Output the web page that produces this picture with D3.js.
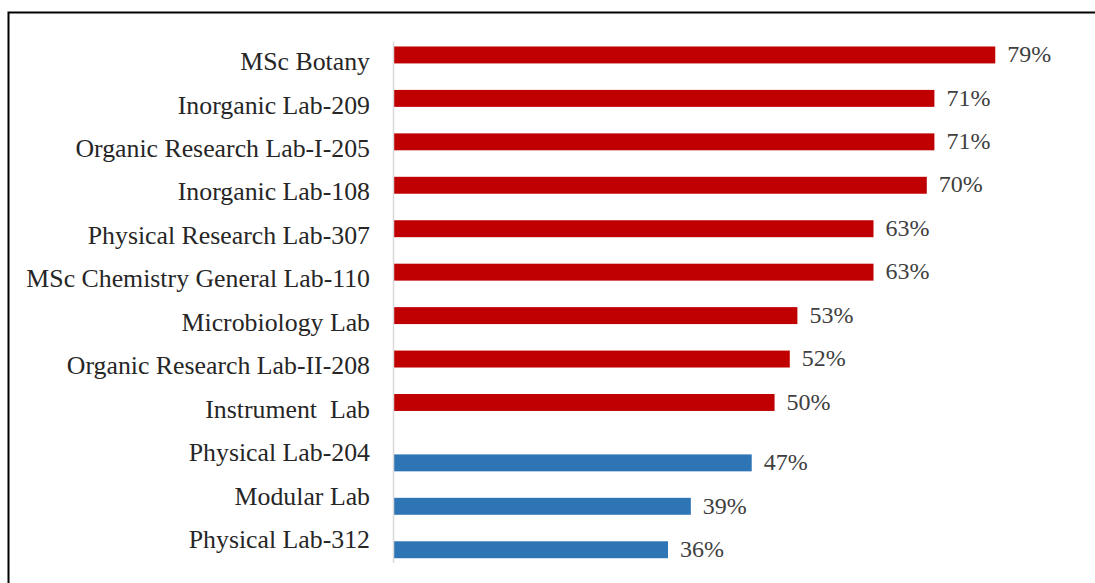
<!DOCTYPE html>
<meta charset="utf-8">
<style>
    body { margin: 0; background: #fff; }
    svg { display: block; }
    .cat text { font-family: 'Liberation Serif', 'Times New Roman', serif; font-size: 25.8px; fill: #262626; white-space: pre; }
    .val { font-family: 'Liberation Serif', 'Times New Roman', serif; font-size: 24px; fill: #404040; }
</style>
<body>
<svg id="chart"></svg>
<script src="https://cdn.jsdelivr.net/npm/d3@7"></script>
<script>
    // categories top to bottom
    var labs = ["MSc Botany", "Inorganic Lab-209", "Organic Research Lab-I-205", "Inorganic Lab-108",
        "Physical Research Lab-307", "MSc Chemistry General Lab-110", "Microbiology Lab",
        "Organic Research Lab-II-208", "Instrument  Lab", "Physical Lab-204", "Modular Lab", "Physical Lab-312"];
    // two series, only one filled per lab
    var high = [0.79, 0.71, 0.71, 0.70, 0.63, 0.63, 0.53, 0.52, 0.50, null, null, null];
    var low = [null, null, null, null, null, null, null, null, null, 0.47, 0.39, 0.36];
    var seriesNames = ["high", "low"];
    var colors = { high: "#c00000", low: "#2e75b6" };

    var W = 1095, H = 583;
    var svg = d3.select("#chart").attr("width", W).attr("height", H);

    // frame
    svg.append("rect")
        .attr("x", 8.5).attr("y", 12.5)
        .attr("width", W + 20).attr("height", H + 20)
        .attr("fill", "none").attr("stroke", "#000").attr("stroke-width", 2);

    var x = d3.scaleLinear().domain([0, 0.9]).range([394, 1079]);
    var y = d3.scaleBand().domain(labs).range([41.7, 563]).paddingInner(0.22).paddingOuter(0.11);
    var ySub = d3.scaleBand().domain(seriesNames).range([0, y.bandwidth()]);

    var rows = labs.map(function (d, i) {
        return { lab: d, high: high[i], low: low[i] };
    });

    // y axis with labels only
    var yAxis = svg.append("g")
        .attr("class", "cat")
        .attr("transform", "translate(394,0)")
        .call(d3.axisLeft(y).tickSize(0).tickPadding(24));
    yAxis.select(".domain").remove();
    yAxis.selectAll("text").attr("dy", "0.26em");

    var g = svg.selectAll("g.row")
        .data(rows)
        .enter().append("g")
        .attr("class", "row")
        .attr("transform", function (d) { return "translate(0," + y(d.lab) + ")"; });

    seriesNames.forEach(function (s) {
        var sel = g.filter(function (d) { return d[s] != null; });
        sel.append("rect")
            .attr("x", x(0))
            .attr("y", ySub(s))
            .attr("width", function (d) { return x(d[s]) - x(0); })
            .attr("height", ySub.bandwidth())
            .attr("fill", colors[s]);
        sel.append("text")
            .attr("class", "val")
            .attr("x", function (d) { return x(d[s]) + 12; })
            .attr("y", ySub(s) + ySub.bandwidth() / 2)
            .attr("dy", "0.3em")
            .text(function (d) { return Math.round(d[s] * 100) + "%"; });
    });

    // vertical axis line
    svg.append("line")
        .attr("x1", 393.5).attr("x2", 393.5)
        .attr("y1", 41.7).attr("y2", 563)
        .attr("stroke", "#d9d9d9").attr("stroke-width", 1.5);
</script>
</body>
